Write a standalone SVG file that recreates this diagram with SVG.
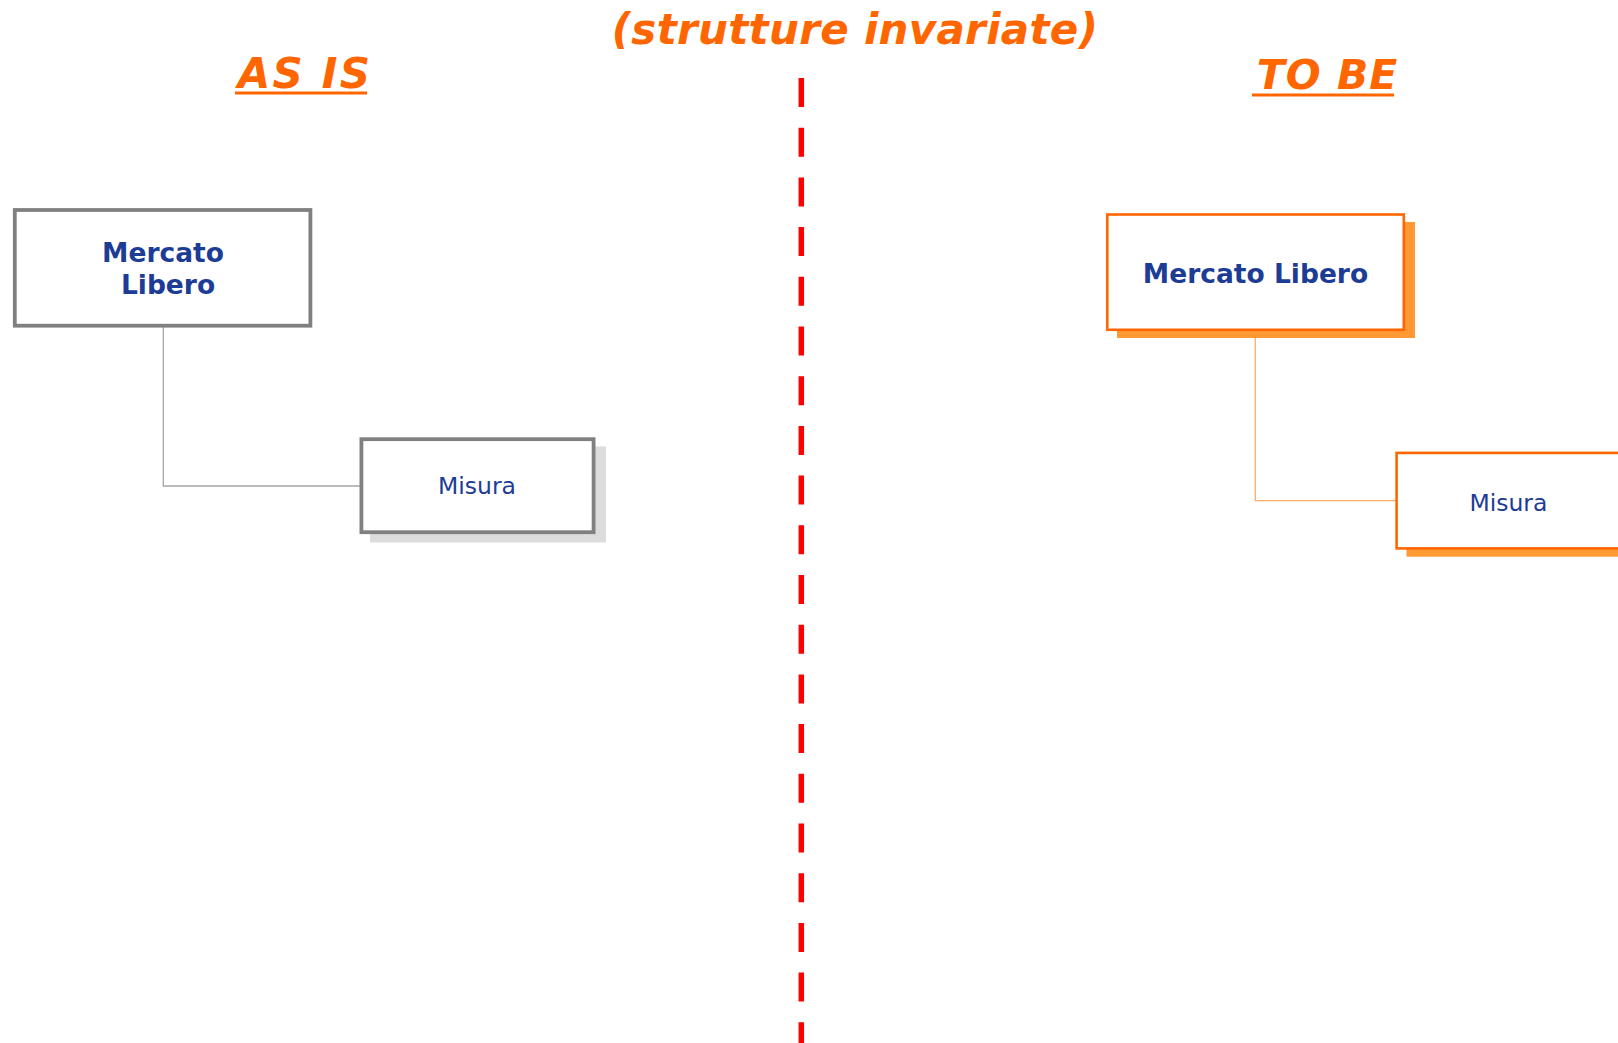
<svg xmlns="http://www.w3.org/2000/svg" width="1618" height="1043" viewBox="0 0 1618 1043">
  <style>
    .title { font-family: "DejaVu Sans", "Liberation Sans", sans-serif; font-weight: bold; font-style: oblique; fill: #ff6600; }
    .bold { font-family: "DejaVu Sans", "Liberation Sans", sans-serif; font-weight: bold; font-size: 26.5px; fill: #1c3c96; text-anchor: middle; }
    .reg { font-family: "DejaVu Sans", "Liberation Sans", sans-serif; font-size: 23.5px; fill: #1c3c96; text-anchor: middle; }
    .box-gray { fill: #ffffff; stroke: #808080; stroke-width: 3.8; }
    .shadow-gray { fill: #dcdcdc; }
    .box-orange { fill: #ffffff; stroke: #ff6600; stroke-width: 2.6; }
    .shadow-orange { fill: #ff9933; }
    .underline { stroke: #ff6600; stroke-width: 2.8; }
  </style>
  <rect x="0" y="0" width="1618" height="1043" fill="#ffffff"/>

  <g id="titles">
    <text class="title" x="855" y="43.5" font-size="42" letter-spacing="0.3" text-anchor="middle">(strutture invariate)</text>
    <text class="title" x="305" y="88" font-size="42" letter-spacing="2.2" text-anchor="middle">AS IS</text>
    <line class="underline" x1="235" y1="93" x2="367" y2="93"/>
    <text class="title" x="1327.5" y="89" font-size="41" letter-spacing="1" text-anchor="middle">TO BE</text>
    <line class="underline" x1="1252" y1="95" x2="1394" y2="95"/>
  </g>

  <g id="divider">
    <line x1="801.3" y1="78" x2="801.3" y2="1043" stroke="#ff0000" stroke-width="5.5" stroke-dasharray="29 20.7"/>
  </g>

  <g id="connectors" fill="none">
    <polyline points="163.3,327 163.3,486 360,486" stroke="#a6a6a6" stroke-width="1.3"/>
    <polyline points="1255.3,331 1255.3,500.7 1396,500.7" stroke="#ffad66" stroke-width="1.3"/>
  </g>

  <g id="asis-mercato-libero">
    <rect class="box-gray" x="14.8" y="210" width="295.6" height="115.7"/>
    <text class="bold" x="163" y="261.7">Mercato</text>
    <text class="bold" x="168" y="294">Libero</text>
  </g>

  <g id="asis-misura">
    <rect class="shadow-gray" x="370" y="446.5" width="236" height="96"/>
    <rect class="box-gray" x="361.4" y="439.2" width="232.2" height="93"/>
    <text class="reg" x="477" y="494.3">Misura</text>
  </g>

  <g id="tobe-mercato-libero">
    <rect class="shadow-orange" x="1117" y="222" width="298" height="116"/>
    <rect class="box-orange" x="1107.3" y="214.5" width="296.5" height="115.3"/>
    <text class="bold" x="1255.5" y="283">Mercato Libero</text>
  </g>

  <g id="tobe-misura">
    <rect class="shadow-orange" x="1406.5" y="460" width="260" height="96.7"/>
    <rect class="box-orange" x="1396.6" y="452.9" width="260" height="95.5"/>
    <text class="reg" x="1508.4" y="510.7">Misura</text>
  </g>
</svg>
